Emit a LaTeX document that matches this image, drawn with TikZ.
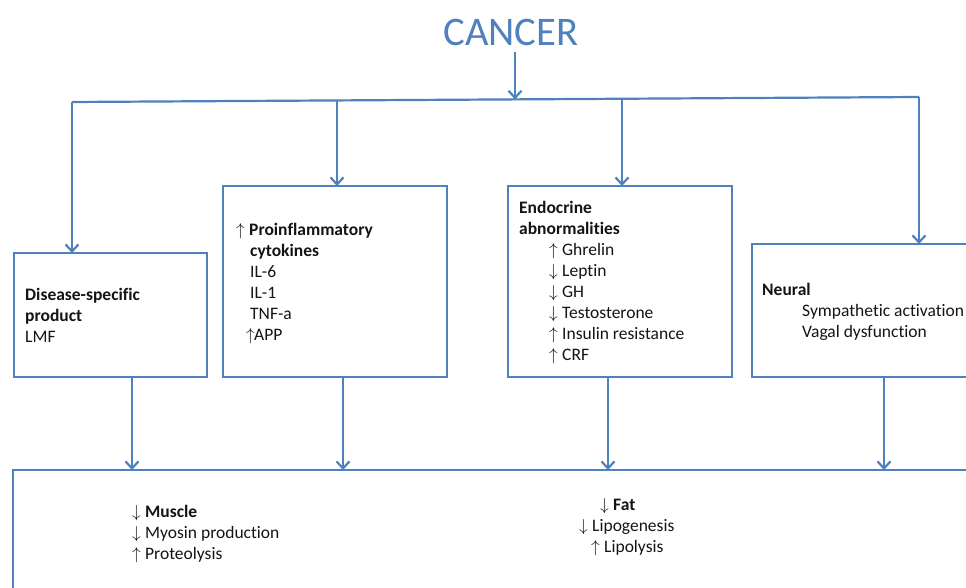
\documentclass[tikz,border=0pt]{standalone}
\usepackage{fontspec}
\setmainfont{Carlito}[RawFeature={-liga;-calt;-clig}]
\usetikzlibrary{arrows.meta,calc}
\definecolor{cblue}{RGB}{79,129,189}
\definecolor{ctext}{RGB}{20,20,20}
\newcommand{\myup}{\makebox[13pt][l]{$\uparrow$}}
\newcommand{\mydn}{\makebox[13pt][l]{$\downarrow$}}
\tikzset{
  box/.style={draw=cblue, line width=2.8pt, anchor=north west, inner sep=0pt, outer sep=0pt},
  conn/.style={draw=cblue, line width=2.2pt},
  arr/.style={conn, -{Straight Barb[length=7pt,width=13pt]}},
  txt/.style={anchor=north west, align=left, inner sep=0pt, text=ctext,
    font=\fontsize{17.5}{21}\selectfont},
}
\begin{document}
\begin{tikzpicture}[x=1pt,y=-1pt]
\useasboundingbox (0,0) rectangle (966,588);
\clip (0,0) rectangle (966,588);
\fill[white] (0,0) rectangle (966,588);

% title
\node[inner sep=0pt, text=cblue, font=\fontsize{40.6}{44}\selectfont] (cancer) at (511,32) {CANCER};

% bus coordinates
\coordinate (j1) at (72,102);
\coordinate (j2) at (337,100.4);
\coordinate (cj) at (515,99.4);
\coordinate (j3) at (622,98.75);
\coordinate (j4) at (919,97);

% boxes
\node[box, minimum width=193pt, minimum height=124pt] (b1) at (14,253) {};
\node[box, minimum width=224pt, minimum height=191pt] (b2) at (223,186) {};
\node[box, minimum width=224pt, minimum height=191pt] (b3) at (508,186) {};
\node[box, minimum width=248pt, minimum height=133pt] (b4) at (752,244) {};
\node[box, minimum width=1000pt, minimum height=200pt] (big) at (13,470) {};

% connectors
\draw[arr, shorten <=6pt] (cancer.south -| cj) -- (cj);
\draw[conn] (j1) -- (j4);
\draw[arr] (j1) -- (j1 |- b1.north);
\draw[arr] (j2) -- (j2 |- b2.north);
\draw[arr] (j3) -- (j3 |- b3.north);
\draw[arr] (j4) -- (j4 |- b4.north);

\coordinate (o1) at (132,0);
\coordinate (o2) at (343,0);
\coordinate (o3) at (608,0);
\coordinate (o4) at (884,0);
\draw[arr] (b1.south -| o1) -- (big.north -| o1);
\draw[arr] (b2.south -| o2) -- (big.north -| o2);
\draw[arr] (b3.south -| o3) -- (big.north -| o3);
\draw[arr] (b4.south -| o4) -- (big.north -| o4);

% texts
\node[txt] (t1) at (25,285.3) {\strut\textbf{Disease-specific}\\\textbf{product}\\LMF};
\node[txt] (t2) at (236,220.3) {\strut\myup\textbf{Proinflammatory}\\
  \hspace*{14pt}\textbf{cytokines}\\
  \hspace*{14pt}IL-6\\
  \hspace*{14pt}IL-1\\
  \hspace*{14pt}TNF-a\\
  \hspace*{10pt}\makebox[8pt][l]{$\uparrow$}APP};
\node[txt] (t3) at (519,198.3) {\strut\textbf{Endocrine}\\
  \textbf{abnormalities}\\
  \hspace*{30pt}\myup Ghrelin\\
  \hspace*{30pt}\mydn Leptin\\
  \hspace*{30pt}\mydn GH\\
  \hspace*{30pt}\mydn Testosterone\\
  \hspace*{30pt}\myup Insulin resistance\\
  \hspace*{30pt}\myup CRF};
\node[txt] (t4) at (762,280.3) {\strut\textbf{Neural}\\
  \hspace*{40pt}Sympathetic activation\\
  \hspace*{40pt}Vagal dysfunction};
\node[txt] (t5) at (132,502.3) {\strut\mydn\textbf{Muscle}\\
  \mydn Myosin production\\
  \myup Proteolysis};
\node[txt] (t6) at (579,495.3) {\strut\hspace*{21pt}\mydn\textbf{Fat}\\
  \mydn Lipogenesis\\
  \hspace*{12pt}\myup Lipolysis};
\end{tikzpicture}
\end{document}
